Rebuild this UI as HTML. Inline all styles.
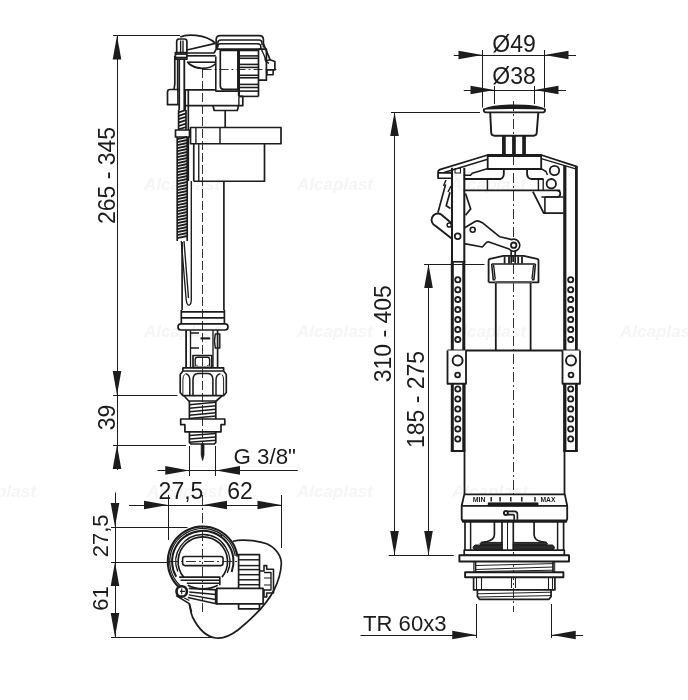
<!DOCTYPE html>
<html lang="en"><head><meta charset="utf-8"><title>Drawing</title>
<style>
html,body{margin:0;padding:0;background:#fff;}
body{width:688px;height:700px;overflow:hidden;font-family:"Liberation Sans",sans-serif;}
svg{display:block;}
svg text{font-family:"Liberation Sans",sans-serif;fill:#1c1c1c;stroke:none;}
</style></head><body>
<svg width="688" height="700" viewBox="0 0 688 700" style="will-change:transform;filter:grayscale(1)" fill="none" stroke="#1c1c1c" stroke-linecap="butt" stroke-linejoin="round">
<rect x="0" y="0" width="688" height="700" fill="#ffffff" stroke="none"/>
<g id="wm" font-style="italic">
<text x="144" y="190" font-size="17" font-weight="bold" textLength="76" lengthAdjust="spacingAndGlyphs" style="fill:#f5f5f5">Alcaplast</text>
<text x="297" y="190" font-size="17" font-weight="bold" textLength="76" lengthAdjust="spacingAndGlyphs" style="fill:#f5f5f5">Alcaplast</text>
<text x="450" y="190" font-size="17" font-weight="bold" textLength="76" lengthAdjust="spacingAndGlyphs" style="fill:#f5f5f5">Alcaplast</text>
<text x="144" y="337" font-size="17" font-weight="bold" textLength="76" lengthAdjust="spacingAndGlyphs" style="fill:#f5f5f5">Alcaplast</text>
<text x="297" y="337" font-size="17" font-weight="bold" textLength="76" lengthAdjust="spacingAndGlyphs" style="fill:#f5f5f5">Alcaplast</text>
<text x="450" y="337" font-size="17" font-weight="bold" textLength="76" lengthAdjust="spacingAndGlyphs" style="fill:#f5f5f5">Alcaplast</text>
<text x="620" y="337" font-size="17" font-weight="bold" textLength="76" lengthAdjust="spacingAndGlyphs" style="fill:#f5f5f5">Alcaplast</text>
<text x="-40" y="497" font-size="17" font-weight="bold" textLength="76" lengthAdjust="spacingAndGlyphs" style="fill:#f5f5f5">Alcaplast</text>
<text x="147" y="497" font-size="17" font-weight="bold" textLength="76" lengthAdjust="spacingAndGlyphs" style="fill:#f5f5f5">Alcaplast</text>
<text x="297" y="497" font-size="17" font-weight="bold" textLength="76" lengthAdjust="spacingAndGlyphs" style="fill:#f5f5f5">Alcaplast</text>
<text x="452" y="497" font-size="17" font-weight="bold" textLength="76" lengthAdjust="spacingAndGlyphs" style="fill:#f5f5f5">Alcaplast</text>
</g>
<g id="dims-left">
<line x1="113" y1="35.5" x2="180" y2="35.5" stroke-width="1.0" />
<line x1="117.5" y1="35.5" x2="117.5" y2="470" stroke-width="1.0" />
<polygon points="117,35.5 121.30,59.50 112.70,59.50" fill="#1c1c1c" stroke="none"/>
<line x1="113" y1="395.5" x2="177.5" y2="395.5" stroke-width="1.0" />
<polygon points="117,395 112.70,371.00 121.30,371.00" fill="#1c1c1c" stroke="none"/>
<line x1="113" y1="445.5" x2="186" y2="445.5" stroke-width="1.0" />
<polygon points="117,445 121.30,469.00 112.70,469.00" fill="#1c1c1c" stroke="none"/>
<text x="114.5" y="175.5" font-size="23" text-anchor="middle" font-weight="normal" transform="rotate(-90 114.5 175.5)" >265 - 345</text>
<text x="114.5" y="417.5" font-size="23" text-anchor="middle" font-weight="normal" transform="rotate(-90 114.5 417.5)" >39</text>
<line x1="157.5" y1="470.5" x2="297.5" y2="470.5" stroke-width="1.0" />
<polygon points="189.25,470.4 165.25,474.70 165.25,466.10" fill="#1c1c1c" stroke="none"/>
<line x1="215.75" y1="470.5" x2="297.5" y2="470.5" stroke-width="1.0" />
<polygon points="216,470.4 240.00,466.10 240.00,474.70" fill="#1c1c1c" stroke="none"/>
<text x="233.5" y="463.5" font-size="22.3" text-anchor="start" font-weight="normal" >G 3/8"</text>
<line x1="115.5" y1="492.5" x2="115.5" y2="637.5" stroke-width="1.0" />
<polygon points="115,527 110.70,503.00 119.30,503.00" fill="#1c1c1c" stroke="none"/>
<polygon points="115,562 119.30,586.00 110.70,586.00" fill="#1c1c1c" stroke="none"/>
<polygon points="115,637 110.70,613.00 119.30,613.00" fill="#1c1c1c" stroke="none"/>
<line x1="111" y1="527.5" x2="187.5" y2="527.5" stroke-width="1.0" />
<line x1="111" y1="562.5" x2="168" y2="562.5" stroke-width="1.0" />
<line x1="111" y1="637.5" x2="215" y2="637.5" stroke-width="1.0" />
<line x1="129" y1="505.5" x2="281.5" y2="505.5" stroke-width="1.0" />
<polygon points="168,505 144.00,509.30 144.00,500.70" fill="#1c1c1c" stroke="none"/>
<polygon points="203,505 227.00,500.70 227.00,509.30" fill="#1c1c1c" stroke="none"/>
<polygon points="281.5,505 257.50,509.30 257.50,500.70" fill="#1c1c1c" stroke="none"/>
<line x1="168.5" y1="495" x2="168.5" y2="540" stroke-width="1.0" />
<line x1="281.5" y1="495" x2="281.5" y2="548" stroke-width="1.0" />
<text x="181" y="499.3" font-size="23" text-anchor="middle" font-weight="normal" >27,5</text>
<text x="240" y="499.3" font-size="23" text-anchor="middle" font-weight="normal" >62</text>
<text x="107.8" y="535.8" font-size="22" text-anchor="middle" font-weight="normal" transform="rotate(-90 107.8 535.8)" >27,5</text>
<text x="107.8" y="598.6" font-size="22" text-anchor="middle" font-weight="normal" transform="rotate(-90 107.8 598.6)" >61</text>
</g>
<g id="dims-right">
<line x1="453.75" y1="55.5" x2="576" y2="55.5" stroke-width="1.0" />
<polygon points="482.5,55 458.50,59.30 458.50,50.70" fill="#1c1c1c" stroke="none"/>
<polygon points="544.5,55 568.50,50.70 568.50,59.30" fill="#1c1c1c" stroke="none"/>
<line x1="482.5" y1="50" x2="482.5" y2="107.5" stroke-width="1.0" />
<line x1="544.5" y1="50" x2="544.5" y2="107.5" stroke-width="1.0" />
<line x1="463.75" y1="90.5" x2="566" y2="90.5" stroke-width="1.0" />
<polygon points="494.5,90 470.50,94.30 470.50,85.70" fill="#1c1c1c" stroke="none"/>
<polygon points="534.5,90 558.50,85.70 558.50,94.30" fill="#1c1c1c" stroke="none"/>
<line x1="494.5" y1="86" x2="494.5" y2="104" stroke-width="1.0" />
<line x1="534.5" y1="86" x2="534.5" y2="104" stroke-width="1.0" />
<text x="514" y="52" font-size="23" text-anchor="middle" font-weight="normal" >Ø49</text>
<text x="514" y="83.5" font-size="23" text-anchor="middle" font-weight="normal" >Ø38</text>
<line x1="391" y1="112.5" x2="480" y2="112.5" stroke-width="1.0" />
<line x1="394.5" y1="112" x2="394.5" y2="555" stroke-width="1.0" />
<polygon points="394.5,112 398.80,136.00 390.20,136.00" fill="#1c1c1c" stroke="none"/>
<polygon points="394.5,555 390.20,531.00 398.80,531.00" fill="#1c1c1c" stroke="none"/>
<line x1="424" y1="264.5" x2="484.5" y2="264.5" stroke-width="1.0" />
<line x1="428.5" y1="264" x2="428.5" y2="555" stroke-width="1.0" />
<polygon points="428.5,264 432.80,288.00 424.20,288.00" fill="#1c1c1c" stroke="none"/>
<polygon points="428.5,555 424.20,531.00 432.80,531.00" fill="#1c1c1c" stroke="none"/>
<line x1="388.75" y1="555.5" x2="453.75" y2="555.5" stroke-width="1.0" />
<text x="391.5" y="333.7" font-size="23" text-anchor="middle" font-weight="normal" transform="rotate(-90 391.5 333.7)" >310 - 405</text>
<text x="423.7" y="399.5" font-size="23" text-anchor="middle" font-weight="normal" transform="rotate(-90 423.7 399.5)" >185 - 275</text>
<line x1="360.5" y1="635.5" x2="476.25" y2="635.5" stroke-width="1.0" />
<polygon points="476.25,635 452.25,639.30 452.25,630.70" fill="#1c1c1c" stroke="none"/>
<line x1="551.75" y1="635.5" x2="583" y2="635.5" stroke-width="1.0" />
<polygon points="551.75,635 575.75,630.70 575.75,639.30" fill="#1c1c1c" stroke="none"/>
<line x1="476.5" y1="604" x2="476.5" y2="638" stroke-width="1.0" />
<line x1="551.5" y1="604" x2="551.5" y2="638" stroke-width="1.0" />
<text x="363" y="630.5" font-size="22.1" text-anchor="start" font-weight="normal" >TR 60x3</text>
</g>
<g id="fillvalve">
<line x1="202.5" y1="69" x2="202.5" y2="444" stroke-width="0.9" stroke-dasharray="9 3"/>
<line x1="202.5" y1="69.5" x2="276.5" y2="69.5" stroke-width="0.9" stroke-dasharray="9 3 2 3"/>
<path d="M176.7,52.5 V41.5 Q176.7,39 179.2,39 H184.4 Q186.9,39 186.9,41.5 V52.5" stroke-width="1.69" fill="none" />
<line x1="180.6" y1="40.5" x2="180.6" y2="52" stroke-width="1.36" />
<line x1="183" y1="40.5" x2="183" y2="52" stroke-width="1.36" />
<path d="M175.4,52.5 H186.9 V59.2 H175.4 Z" stroke-width="1.69" fill="none" />
<line x1="175.4" y1="54" x2="186.9" y2="54" stroke-width="1.81" />
<line x1="175.4" y1="57.6" x2="186.9" y2="57.6" stroke-width="1.81" />
<line x1="179.2" y1="59.2" x2="179.2" y2="110" stroke-width="1.81" />
<line x1="184.3" y1="59.2" x2="184.3" y2="110" stroke-width="1.81" />
<path d="M180.2,36.9 C186,34.3 205,33.5 215.5,43.4" stroke-width="1.69" fill="none" />
<path d="M186.9,50 L215.5,43.4" stroke-width="1.69" fill="none" />
<path d="M186.9,53 H214 L216.2,49.2" stroke-width="1.69" fill="none" />
<path d="M186.9,55.8 H215.8" stroke-width="1.69" fill="none" />
<path d="M186.9,62.2 H215.8" stroke-width="1.58" fill="none" />
<path d="M188,63 C192,66.5 197,68.3 202.5,68.3 C208.5,68.3 213,66.5 215.8,63.5" stroke-width="1.69" fill="none" />
<path d="M216.2,49.2 V39.5 Q216.2,35.6 220.2,35.6 H259.4 Q263.4,35.6 263.4,39.5 V47.4" stroke-width="1.69" fill="none" />
<path d="M217.8,47 V43 Q217.8,40.1 221,40.1 H259 Q262,40.1 262,43 V45" stroke-width="1.47" fill="none" />
<path d="M217.5,49.2 V46.8 Q217.5,43.8 220.8,43.8 H257.5 Q260.8,43.8 260.8,46.8 V49.2" stroke-width="1.47" fill="none" />
<path d="M216.2,49.2 H260.6" stroke-width="1.69" fill="none" />
<path d="M220.3,50.5 H237.9 V89.3 H223.5 Q220.3,89.3 220.3,86 Z" stroke-width="1.69" fill="none" />
<path d="M215.8,56.5 V91.1 H238.9" stroke-width="1.58" fill="none" />
<line x1="238.9" y1="50.5" x2="258.5" y2="50.5" stroke-width="1.58" />
<line x1="238.9" y1="55.9" x2="258.5" y2="55.9" stroke-width="1.58" />
<line x1="238.9" y1="58.3" x2="258.5" y2="58.3" stroke-width="1.58" />
<line x1="238.9" y1="64.4" x2="258.5" y2="64.4" stroke-width="1.58" />
<line x1="238.9" y1="67.4" x2="258.5" y2="67.4" stroke-width="1.58" />
<line x1="238.9" y1="75.3" x2="258.5" y2="75.3" stroke-width="1.58" />
<line x1="238.9" y1="77.8" x2="258.5" y2="77.8" stroke-width="1.58" />
<line x1="238.9" y1="84.4" x2="258.5" y2="84.4" stroke-width="1.58" />
<line x1="238.9" y1="87.5" x2="258.5" y2="87.5" stroke-width="1.58" />
<line x1="238.9" y1="91.1" x2="258.5" y2="91.1" stroke-width="1.58" />
<line x1="238.9" y1="96.4" x2="258.5" y2="96.4" stroke-width="1.58" />
<line x1="238.9" y1="49.2" x2="238.9" y2="96.4" stroke-width="2.15" />
<line x1="258.5" y1="49.2" x2="258.5" y2="96.4" stroke-width="1.69" />
<path d="M258.5,49.2 H266.4 V80.2 H258.5" stroke-width="1.69" fill="none" />
<path d="M263.4,43.8 L270.2,59.8" stroke-width="1.69" fill="none" />
<path d="M260.6,47.4 L265,57.5" stroke-width="1.36" fill="none" />
<path d="M265,57 Q264.8,62 269,63.2" stroke-width="1.58" fill="none" />
<path d="M266.4,60.8 L270,59.8 L274.9,61.5 V69.9 H266.4" stroke-width="1.69" fill="none" />
<path d="M267,69.9 V74.7 H273.1 V69.9" stroke-width="1.58" fill="none" />
<path d="M174.8,56 V84 L174,89.5" stroke-width="1.69" fill="none" />
<line x1="177.5" y1="59.2" x2="177.5" y2="89.5" stroke-width="1.36" />
<path d="M179,89.5 H170 Q167.5,89.5 167.5,92 V104.7 H179" stroke-width="1.69" fill="none" />
<line x1="177.8" y1="89.5" x2="177.8" y2="104.7" stroke-width="1.36" />
<path d="M185,89.8 H215.8 M238.9,96.4 H242.8 V105.7 H186" stroke-width="1.69" fill="none" />
<line x1="188.3" y1="89.8" x2="188.3" y2="181" stroke-width="1.69" />
<line x1="185.5" y1="89.8" x2="185.5" y2="110" stroke-width="1.1" />
<line x1="238.9" y1="96.4" x2="238.9" y2="105.7" stroke-width="1.36" />
<path d="M213,105.7 L214.2,110.5 H237.3 L238.5,105.7" stroke-width="1.69" fill="none" />
<line x1="225.2" y1="110.5" x2="225.2" y2="127.5" stroke-width="1.69" />
<path d="M190.5,127.5 H281 V143.75 H190.5 Z" stroke-width="1.69" fill="none" />
<line x1="195.9" y1="127.5" x2="195.9" y2="143.75" stroke-width="1.36" />
<line x1="220" y1="127.5" x2="220" y2="143.75" stroke-width="1.47" />
<path d="M193.75,143.75 V181.25 M264.5,143.75 V181.25 H193.75" stroke-width="1.69" fill="none" />
<line x1="198.75" y1="143.75" x2="198.75" y2="181.25" stroke-width="1.36" />
<rect x="175.5" y="130" width="14" height="7" rx="0" stroke-width="1.69" fill="#fff"/>
<path d="M178.6,112.4 L186,110.0 M178.6,115.8 L186,113.4 M178.6,119.2 L186,116.8 M178.6,122.6 L186,120.2 M178.6,126.0 L186,123.6 M178.6,129.4 L186,127.0 " stroke-width="1.81" fill="none" />
<line x1="178.6" y1="110" x2="178.6" y2="130" stroke-width="1.69" />
<line x1="186" y1="110" x2="186" y2="130" stroke-width="1.69" />
<path d="M177.2,139.2 L187.2,137.0 M177.2,142.2 L187.2,140.0 M177.2,145.2 L187.2,143.0 M177.2,148.2 L187.2,146.0 M177.2,151.2 L187.2,149.0 M177.2,154.2 L187.2,152.0 M177.2,157.2 L187.2,155.0 M177.2,160.2 L187.2,158.0 M177.2,163.2 L187.2,161.0 M177.2,166.2 L187.2,164.0 M177.2,169.2 L187.2,167.0 M177.2,172.2 L187.2,170.0 M177.2,175.2 L187.2,173.0 M177.2,178.2 L187.2,176.0 M177.2,181.2 L187.2,179.0 M177.2,184.2 L187.2,182.0 M177.2,187.2 L187.2,185.0 M177.2,190.2 L187.2,188.0 M177.2,193.2 L187.2,191.0 M177.2,196.2 L187.2,194.0 M177.2,199.2 L187.2,197.0 M177.2,202.2 L187.2,200.0 M177.2,205.2 L187.2,203.0 M177.2,208.2 L187.2,206.0 M177.2,211.2 L187.2,209.0 M177.2,214.2 L187.2,212.0 M177.2,217.2 L187.2,215.0 M177.2,220.2 L187.2,218.0 M177.2,223.2 L187.2,221.0 M177.2,226.2 L187.2,224.0 M177.2,229.2 L187.2,227.0 M177.2,232.2 L187.2,230.0 M177.2,235.2 L187.2,233.0 M177.2,238.2 L187.2,236.0 " stroke-width="1.81" fill="none" />
<line x1="177.2" y1="137" x2="177.2" y2="241" stroke-width="1.69" />
<line x1="187.2" y1="137" x2="187.2" y2="241" stroke-width="1.69" />
<path d="M181.3,241 L186.2,300 Q187,306 189.5,305 Q191.5,304 191.3,298 L191.3,181" stroke-width="1.36" fill="none" />
<path d="M184,241 L188.5,298" stroke-width="1.36" fill="none" />
<line x1="182.1" y1="242" x2="182.1" y2="310" stroke-width="1.69" />
<line x1="223.9" y1="181.25" x2="223.9" y2="310" stroke-width="1.69" />
<path d="M181.3,310 V323.75 M224.4,310 V323.75" stroke-width="1.69" fill="none" />
<line x1="181.3" y1="311.8" x2="224.4" y2="311.8" stroke-width="1.69" />
<line x1="181.3" y1="317.9" x2="224.4" y2="317.9" stroke-width="1.69" />
<path d="M181,323.9 H225 Q228,323.9 228,327 Q228,330 225,330 H181 Q178,330 178,327 Q178,323.9 181,323.9 Z" stroke-width="1.69" fill="none" />
<line x1="186.1" y1="330" x2="186.1" y2="367.9" stroke-width="1.81" />
<line x1="190.5" y1="330" x2="190.5" y2="367.9" stroke-width="1.36" />
<line x1="213" y1="330" x2="213" y2="367.9" stroke-width="1.36" />
<line x1="217.6" y1="330" x2="217.6" y2="367.9" stroke-width="1.69" />
<path d="M190.9,333 H199 M190.9,348 H199" stroke-width="1.69" fill="none" />
<path d="M200.5,338.4 H210.2" stroke-width="2.15" fill="none" />
<path d="M215.3,334 Q213.6,341 215.3,348 H219.8 V334 Z" stroke-width="1.47" fill="none" />
<path d="M193,355.5 H211.8 V367.3 H193 Z" stroke-width="1.69" fill="none" />
<path d="M195.2,366 V359.5 Q195.2,357.3 197.4,357.3 H207.4 Q209.6,357.3 209.6,359.5 V366" stroke-width="1.36" fill="none" />
<path d="M196,364.5 L197.5,366 M208.8,364.5 L207.3,366" stroke-width="1.0" fill="none" />
<path d="M182.9,367.9 H223.6 V371 H182.9 Z" stroke-width="1.69" fill="none" />
<path d="M182.9,371 L180.2,374.5 V392.5 L182.9,395.7 H223.6 L226.3,392.5 V374.5 L223.6,371" stroke-width="1.69" fill="none" />
<path d="M193,395.7 V380 Q193,373.8 198,373.5 H208 Q212.9,373.8 212.9,380 V395.7" stroke-width="1.58" fill="none" />
<path d="M189.8,395.7 V380 Q189.8,374.5 185.5,373.8 M216,395.7 V380 Q216,374.5 220.4,373.8" stroke-width="1.47" fill="none" />
<path d="M182.9,395.7 V380 Q182.9,376 184.5,374.5 M223.6,395.7 V380 Q223.6,376 222,374.5" stroke-width="1.0" fill="none" />
<path d="M184,395.7 L188.75,401 H216.25 L222.3,395.7" stroke-width="1.69" fill="none" />
<path d="M189.4,401 V419 M215.8,401 V419" stroke-width="1.69" fill="none" />
<line x1="189.4" y1="404.7" x2="215.8" y2="402.3" stroke-width="1.53" />
<line x1="189.4" y1="408.2" x2="215.8" y2="405.8" stroke-width="1.53" />
<line x1="189.4" y1="411.7" x2="215.8" y2="409.3" stroke-width="1.53" />
<line x1="189.4" y1="415.2" x2="215.8" y2="412.8" stroke-width="1.53" />
<line x1="189.4" y1="418.5" x2="215.8" y2="416.1" stroke-width="1.53" />
<path d="M180.7,419 H224.8 V424.7 H221 V431.8 H184.9 V424.7 H180.7 Z" stroke-width="1.69" fill="none" />
<path d="M189.4,431.8 V442.5 L190.8,444 H214.4 L215.8,442.5 V431.8" stroke-width="1.69" fill="none" />
<line x1="189.4" y1="435.6" x2="215.8" y2="433.6" stroke-width="1.53" />
<line x1="189.4" y1="439" x2="215.8" y2="437" stroke-width="1.53" />
<line x1="189.4" y1="442.3" x2="215.8" y2="440.3" stroke-width="1.53" />
<path d="M201.2,444 H204 V455 L202.6,460.5 L201.2,455 Z" stroke-width="0.8" fill="#1c1c1c" />
<line x1="189.5" y1="446" x2="189.5" y2="476" stroke-width="1.0" />
<line x1="215.5" y1="446" x2="215.5" y2="476" stroke-width="1.0" />
</g>
<g id="topview">
<line x1="168" y1="561.5" x2="240" y2="561.5" stroke-width="0.9" stroke-dasharray="10 3 2 3"/>
<line x1="202.5" y1="495" x2="202.5" y2="612" stroke-width="0.9" stroke-dasharray="10 3 2 3"/>
<path d="M233,541.2 C240,539.5 256,539.8 266.7,543.8 C276,548 281.5,556 281.3,564 C281,572 279,580 274,590 C268,602 254,617 238,630 C230,636 222,638.8 216,638 C207,637 199,630 192.5,617 C190.5,612 190,607 189.3,603.6" stroke-width="1.69" fill="none" />
<path d="M182.72,590.17 A35,35 0 1 1 237.46,556.63" stroke-width="2.15" fill="none" />
<path d="M181.59,586.78 A33,33 0 1 1 235.30,555.77" stroke-width="1.36" fill="none" />
<path d="M176.21,576.85 A30.7,30.7 0 1 1 231.65,572.00" stroke-width="2.03" fill="none" />
<path d="M177.77,571.61 A27,27 0 1 1 227.27,572.91" stroke-width="1.36" fill="none" />
<path d="M183.66,577.11 A24.7,24.7 0 1 1 221.94,577.11" stroke-width="1.69" fill="none" />
<path d="M179.2,577.1 H219.8 V585.3" stroke-width="1.69" fill="none" />
<path d="M180.5,580.2 H219.8" stroke-width="1.47" fill="none" />
<path d="M186.8,583.2 H219.8" stroke-width="1.47" fill="none" />
<path d="M187.8,585.3 C193,588 198,588.8 202.6,588.8 C208,588.8 213,588 217.8,585.3" stroke-width="1.58" fill="none" />
<path d="M186.8,536.5 V534 M221.3,536.5 V534" stroke-width="1.36" fill="none" />
<rect x="182.6" y="556.5" width="40.5" height="9.1" rx="2.5" stroke-width="1.58" fill="none"/>
<path d="M238.6,588.3 V554.7 H259.5 V588.3" stroke-width="1.69" fill="none" />
<line x1="238.6" y1="559.8" x2="259.5" y2="559.8" stroke-width="1.47" />
<line x1="238.6" y1="565.6" x2="259.5" y2="565.6" stroke-width="1.47" />
<line x1="238.6" y1="569.6" x2="259.5" y2="569.6" stroke-width="1.47" />
<line x1="238.6" y1="574.7" x2="259.5" y2="574.7" stroke-width="1.47" />
<line x1="238.6" y1="579.8" x2="259.5" y2="579.8" stroke-width="1.47" />
<line x1="238.6" y1="584.7" x2="259.5" y2="584.7" stroke-width="1.47" />
<path d="M238.6,603.8 V608.8 H259.5 V603.8" stroke-width="1.69" fill="none" />
<path d="M216.8,588.3 H263.1 V603.8 H216.8 Z" stroke-width="1.69" fill="#fff" />
<path d="M259.5,571 H264 V565.6 H266.7 V569.2 H273.5 V593 H266.7 V597 H264 V590 H263.1" stroke-width="1.58" fill="none" />
<path d="M264,572.5 H271 V590 H264" stroke-width="1.36" fill="none" />
<path d="M264,578 H271 M264,585 H271" stroke-width="1.1" fill="none" />
<path d="M188.8,588.3 L217.3,589.8" stroke-width="1.69" fill="none" />
<path d="M189.3,591.9 L215.8,594.4" stroke-width="1.47" fill="none" />
<path d="M188.8,594.9 L215.3,599.5" stroke-width="1.47" fill="none" />
<path d="M187.8,597.5 L217.3,604" stroke-width="1.69" fill="none" />
<path d="M215.5,590 V603.6" stroke-width="1.36" fill="none" />
<circle cx="181.7" cy="591.4" r="5.2" stroke-width="2.6" fill="#fff"/>
<path d="M181.7,588.5 V594.3 M180,591.4 H185" stroke-width="1.1" fill="none" />
<path d="M176.1,595.6 L189.3,603.6 L191.5,612" stroke-width="1.69" fill="none" />
<path d="M184.2,598 L189.3,600.5" stroke-width="1.36" fill="none" />
</g>
<g id="flushvalve">
<line x1="513.5" y1="101" x2="513.5" y2="238" stroke-width="0.9" stroke-dasharray="10 3 2 3"/>
<line x1="513.5" y1="264" x2="513.5" y2="612" stroke-width="0.9" stroke-dasharray="10 3 2 3"/>
<path d="M484.2,109.2 C490,106.3 502,105.2 514.3,105.2 C527,105.2 539,106.3 544.6,109.2 C541,108.6 528,108.4 514.3,108.4 C501,108.4 488,108.6 484.2,109.2 Z" stroke-width="1.36" fill="#1c1c1c" />
<path d="M484.2,109 Q483,111.5 485.5,112.4 H543.3 Q545.8,111.5 544.6,109" stroke-width="1.92" fill="none" />
<path d="M490.2,112.6 L491.2,133 Q491.4,135.7 494.5,135.7 H533.5 Q536.5,135.7 536.7,133 L538.3,112.6" stroke-width="1.92" fill="none" />
<line x1="503.9" y1="135.7" x2="503.9" y2="155" stroke-width="3.7" />
<line x1="513.95" y1="135.7" x2="513.95" y2="155" stroke-width="3.7" />
<line x1="524.05" y1="135.7" x2="524.05" y2="155" stroke-width="3.7" />
<path d="M487.7,155 H541.2 V169 H487.7 Z" stroke-width="1.81" fill="none" />
<line x1="487.7" y1="156.2" x2="541.2" y2="156.2" stroke-width="1.58" />
<path d="M487.7,155 L440.5,169.3 Q438.1,170.1 438.1,172 V178.2" stroke-width="1.81" fill="none" />
<path d="M487.7,159.2 L444,172.5" stroke-width="1.47" fill="none" />
<path d="M438.1,172.9 H452 M437.5,178.2 H452" stroke-width="1.58" fill="none" />
<path d="M541.2,155 L577,166.6" stroke-width="1.81" fill="none" />
<path d="M541.2,158.6 L575.7,168.9" stroke-width="1.47" fill="none" />
<path d="M503.8,168.6 V174.5 Q503.5,178 500.6,179 H463.8" stroke-width="1.81" fill="none" />
<path d="M527.1,168.6 V174.5 Q527.4,178 530.9,179 H543.5" stroke-width="1.81" fill="none" />
<path d="M488,168.6 L472.3,173.3 L470.5,175.2 H463.8" stroke-width="1.58" fill="none" />
<path d="M541,168.6 L546,171.5 L547.5,175" stroke-width="1.47" fill="none" />
<line x1="463.7" y1="190.4" x2="560.2" y2="190.4" stroke-width="1.92" />
<line x1="487.4" y1="179" x2="487.4" y2="190.4" stroke-width="1.47" />
<line x1="538.4" y1="179" x2="538.4" y2="190.4" stroke-width="1.47" />
<line x1="543.2" y1="179" x2="543.2" y2="190.4" stroke-width="1.36" />
<circle cx="554.5" cy="170.5" r="4.7" stroke-width="1.81" fill="none"/>
<circle cx="551.3" cy="183.7" r="4.7" stroke-width="1.81" fill="none"/>
<path d="M532.9,191.7 L543.7,213.2 H563.5" stroke-width="1.81" fill="none" />
<path d="M541.4,197 H557.3 Q560.3,197 560.3,193.8 Q560.3,190.6 557.3,190.6" stroke-width="1.69" fill="none" />
<path d="M544.9,197 H563.5 M544.9,197 V213.2" stroke-width="1.58" fill="none" />
<line x1="452" y1="167.8" x2="452" y2="262" stroke-width="2.03" />
<line x1="464.3" y1="167.8" x2="464.3" y2="262" stroke-width="2.03" />
<line x1="452.3" y1="261.6" x2="452.3" y2="350.5" stroke-width="3.0" />
<line x1="452.3" y1="383.75" x2="452.3" y2="451" stroke-width="3.0" />
<line x1="463.8" y1="261.6" x2="463.8" y2="350.5" stroke-width="3.0" />
<line x1="463.8" y1="383.75" x2="463.8" y2="451" stroke-width="3.0" />
<line x1="564.8" y1="166" x2="564.8" y2="350.5" stroke-width="3.2" />
<line x1="564.8" y1="383.75" x2="564.8" y2="451" stroke-width="3.2" />
<line x1="576.4" y1="166" x2="576.4" y2="350.5" stroke-width="2.8" />
<line x1="576.4" y1="383.75" x2="576.4" y2="451" stroke-width="2.8" />
<path d="M455,168.5 H460.5 V173 H455 Z" stroke-width="1.1" fill="none" />
<line x1="451" y1="261.8" x2="465.2" y2="261.8" stroke-width="1.69" />
<circle cx="457.8" cy="279.8" r="2.6" stroke-width="1.81" fill="#fff"/>
<circle cx="570.7" cy="279.8" r="2.6" stroke-width="1.81" fill="#fff"/>
<circle cx="457.8" cy="289.7" r="2.6" stroke-width="1.81" fill="#fff"/>
<circle cx="570.7" cy="289.7" r="2.6" stroke-width="1.81" fill="#fff"/>
<circle cx="457.8" cy="299.6" r="2.6" stroke-width="1.81" fill="#fff"/>
<circle cx="570.7" cy="299.6" r="2.6" stroke-width="1.81" fill="#fff"/>
<circle cx="457.8" cy="309.6" r="2.6" stroke-width="1.81" fill="#fff"/>
<circle cx="570.7" cy="309.6" r="2.6" stroke-width="1.81" fill="#fff"/>
<circle cx="457.8" cy="319.6" r="2.6" stroke-width="1.81" fill="#fff"/>
<circle cx="570.7" cy="319.6" r="2.6" stroke-width="1.81" fill="#fff"/>
<circle cx="457.8" cy="329.6" r="2.6" stroke-width="1.81" fill="#fff"/>
<circle cx="570.7" cy="329.6" r="2.6" stroke-width="1.81" fill="#fff"/>
<circle cx="457.8" cy="339.6" r="2.6" stroke-width="1.81" fill="#fff"/>
<circle cx="570.7" cy="339.6" r="2.6" stroke-width="1.81" fill="#fff"/>
<circle cx="457.8" cy="389" r="2.6" stroke-width="1.81" fill="#fff"/>
<circle cx="570.7" cy="389" r="2.6" stroke-width="1.81" fill="#fff"/>
<circle cx="457.8" cy="399" r="2.6" stroke-width="1.81" fill="#fff"/>
<circle cx="570.7" cy="399" r="2.6" stroke-width="1.81" fill="#fff"/>
<circle cx="457.8" cy="409" r="2.6" stroke-width="1.81" fill="#fff"/>
<circle cx="570.7" cy="409" r="2.6" stroke-width="1.81" fill="#fff"/>
<circle cx="457.8" cy="419" r="2.6" stroke-width="1.81" fill="#fff"/>
<circle cx="570.7" cy="419" r="2.6" stroke-width="1.81" fill="#fff"/>
<circle cx="457.8" cy="429" r="2.6" stroke-width="1.81" fill="#fff"/>
<circle cx="570.7" cy="429" r="2.6" stroke-width="1.81" fill="#fff"/>
<circle cx="457.8" cy="439" r="2.6" stroke-width="1.81" fill="#fff"/>
<circle cx="570.7" cy="439" r="2.6" stroke-width="1.81" fill="#fff"/>
<path d="M450.8,451 H465.3 M563.2,451 H577.8" stroke-width="2.03" fill="none" />
<path d="M445.6,184.4 L437.9,212.8 M450,192.2 L446.2,205.7 L450.5,208.5" stroke-width="1.69" fill="none" />
<path d="M446,180 L443.5,186 M451,186 L448,192" stroke-width="1.47" fill="none" />
<path d="M465.5,193.5 L470.7,208.9 L465.5,215.3" stroke-width="1.69" fill="none" />
<path d="M440.6,214 L451.6,223.2 M451.6,238.5 L435.4,225.8 A5.2,5.2 0 0 1 440.6,214" stroke-width="1.92" fill="none" />
<circle cx="449.2" cy="225" r="2.1" stroke-width="1.47" fill="none"/>
<path d="M464.3,228 L475.5,221.2 Q478,220.3 482.3,222.7 L499.8,236.8 L511.65,239.56 A6,6 0 1 1 509.1,249.06 L489,242 Q487,241.6 485.5,243.5 L482.3,247 L464.3,243.6" stroke-width="1.69" fill="none" />
<circle cx="472.7" cy="229.7" r="2.5" stroke-width="1.58" fill="none"/>
<circle cx="457.7" cy="236.3" r="2.9" stroke-width="1.69" fill="#fff"/>
<circle cx="513.7" cy="245.2" r="2.7" stroke-width="1.81" fill="none"/>
<path d="M511.2,250.6 V263.5 M515.2,250.6 V263.5" stroke-width="1.69" fill="none" />
<path d="M513.2,255 V262" stroke-width="1.81" fill="none" />
<path d="M488.6,282.3 V260.6 Q488.6,259.2 490,258.9 L503.4,255.9 H523.7 L537,258.9 Q538.5,259.2 538.5,260.6 V282.3 H531.9 M488.6,282.3 H495.3" stroke-width="1.81" fill="none" />
<path d="M491.7,264 H535.4 M491.7,264 L493.3,279.8 H495.3 M535.4,264 L533.9,279.8 H531.9" stroke-width="1.58" fill="none" />
<path d="M493.6,265 L495.2,279 M533.6,265 L532,279" stroke-width="1.36" fill="none" />
<line x1="504.6" y1="256.5" x2="504.6" y2="263.5" stroke-width="1.81" />
<line x1="509" y1="256.5" x2="509" y2="263.5" stroke-width="1.81" />
<line x1="518.2" y1="256.5" x2="518.2" y2="263.5" stroke-width="1.81" />
<line x1="522" y1="256.5" x2="522" y2="263.5" stroke-width="1.81" />
<line x1="495.3" y1="282.3" x2="531.9" y2="282.3" stroke-width="2.49" stroke="#555"/>
<line x1="495.8" y1="283" x2="495.8" y2="350.5" stroke-width="1.81" />
<line x1="530.6" y1="283" x2="530.6" y2="350.5" stroke-width="1.81" />
<line x1="447.5" y1="350.5" x2="580" y2="350.5" stroke-width="1.81" />
<path d="M447.5,350.5 V383.75 H466 V350.5" stroke-width="1.81" fill="#fff" />
<path d="M562.5,350.5 V383.75 H580 V350.5" stroke-width="1.81" fill="#fff" />
<circle cx="457.6" cy="360.5" r="5" stroke-width="1.92" fill="none"/>
<circle cx="571" cy="360.5" r="5" stroke-width="1.92" fill="none"/>
<circle cx="457.6" cy="375" r="2.4" stroke-width="1.81" fill="none"/>
<circle cx="571" cy="375" r="2.4" stroke-width="1.81" fill="none"/>
<line x1="464.5" y1="383.75" x2="464.5" y2="494" stroke-width="1.81" />
<line x1="564.5" y1="383.75" x2="564.5" y2="494" stroke-width="1.81" />
<path d="M464.3,494.4 H564.8 L567.2,505.8 V519 L566,521.8 H463 L461.7,519 V505.8 Z" stroke-width="1.81" fill="#fff" />
<line x1="461.7" y1="505.8" x2="567.2" y2="505.8" stroke-width="1.81" />
<line x1="462.5" y1="520.2" x2="566.5" y2="520.2" stroke-width="1.36" />
<text x="479.1" y="502.4" font-size="7.6" text-anchor="middle" font-weight="bold" textLength="12.8" lengthAdjust="spacingAndGlyphs">MIN</text>
<text x="547.9" y="502.4" font-size="7.6" text-anchor="middle" font-weight="bold" textLength="15" lengthAdjust="spacingAndGlyphs">MAX</text>
<line x1="491.2" y1="496.9" x2="491.2" y2="501.6" stroke-width="1.47" />
<line x1="500.1" y1="496.9" x2="500.1" y2="501.6" stroke-width="1.47" />
<line x1="510.8" y1="496.9" x2="510.8" y2="501.6" stroke-width="1.47" />
<line x1="521.8" y1="496.9" x2="521.8" y2="501.6" stroke-width="1.47" />
<line x1="535" y1="496.9" x2="535" y2="501.6" stroke-width="1.47" />
<rect x="487.8" y="502.4" width="50.6" height="4" fill="#1c1c1c" stroke="none"/>
<circle cx="505.9" cy="513" r="2.0" stroke-width="1.81" fill="none"/>
<path d="M507.8,511.4 H514.5 Q517.4,511.4 517.4,514.3 V519.8 M507.8,514.6 H513 Q514.2,514.6 514.2,515.8 V519.8" stroke-width="1.69" fill="none" />
<line x1="465" y1="521.8" x2="465" y2="550.2" stroke-width="1.69" />
<line x1="470.6" y1="521.8" x2="470.6" y2="550.2" stroke-width="1.47" />
<line x1="557.6" y1="521.8" x2="557.6" y2="550.2" stroke-width="1.47" />
<line x1="563.6" y1="521.8" x2="563.6" y2="550.2" stroke-width="1.69" />
<line x1="502" y1="521.8" x2="502" y2="550.2" stroke-width="1.69" />
<line x1="513.3" y1="521.8" x2="513.3" y2="550.2" stroke-width="1.69" />
<line x1="507.5" y1="521.8" x2="507.5" y2="550.2" stroke-width="1.0" />
<path d="M494.4,521.8 V535 Q494,540 487,541.5 L481.2,542.6" stroke-width="1.69" fill="none" />
<path d="M534.1,521.8 V535 Q534.5,540 541,541.5 L546.4,542.6" stroke-width="1.69" fill="none" />
<path d="M481,542.4 H502 V545 H481 Q479,543.7 481,542.4 Z M513.3,542.4 H546.5 Q548.5,543.7 546.5,545 H513.3 Z" stroke-width="1.0" fill="#333" />
<path d="M475,545 H502 V550.2 H475 Q471,547.6 475,545 Z M513.3,545 H552.5 Q556.5,547.6 552.5,550.2 H513.3 Z" stroke-width="1.0" fill="#2a2a2a" />
<path d="M464.2,550.2 H564.3 V555.3 H464.2 Z" stroke-width="1.69" fill="none" />
<path d="M459.4,555.3 H569 V561.5 H459.4 Z" stroke-width="1.92" fill="#fff" />
<path d="M475.5,561.5 V572.3 M553,561.5 V572.3" stroke-width="1.69" fill="none" />
<path d="M473.8,561.5 V572.3 M554.7,561.5 V572.3" stroke-width="1.0" fill="none" />
<line x1="475.5" y1="565.5" x2="553" y2="563.6" stroke-width="1.0" />
<line x1="475.5" y1="569.5" x2="553" y2="567" stroke-width="1.0" />
<line x1="475.5" y1="571.6" x2="553" y2="570.2" stroke-width="1.0" />
<path d="M465.1,572.3 H563.4 V577.2 H465.1 Z" stroke-width="1.92" fill="#fff" />
<path d="M473.6,577.2 V589.9 H554.9 V577.2" stroke-width="1.69" fill="none" />
<line x1="476.5" y1="577.2" x2="476.5" y2="589.9" stroke-width="1.1" />
<line x1="481.5" y1="577.2" x2="481.5" y2="589.9" stroke-width="1.1" />
<line x1="548.5" y1="577.2" x2="548.5" y2="589.9" stroke-width="1.1" />
<line x1="552.5" y1="577.2" x2="552.5" y2="589.9" stroke-width="1.1" />
<path d="M511.5,577.2 V588 M515.5,577.2 V588" stroke-width="1.0" fill="none" />
<path d="M477.4,589.9 V596.5 L479.5,599.3 H549 L551.1,596.5 V589.9" stroke-width="1.69" fill="none" />
<line x1="477.4" y1="593.8" x2="551.1" y2="592.2" stroke-width="1.0" />
<line x1="477.4" y1="597" x2="551.1" y2="595.6" stroke-width="1.0" />
</g>
</svg>
</body></html>
